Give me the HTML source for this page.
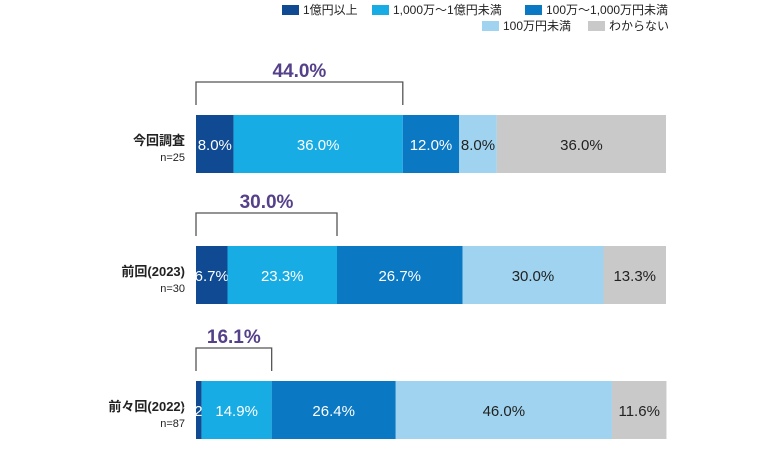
<!DOCTYPE html>
<html><head><meta charset="utf-8"><style>
body{margin:0;background:#fff;width:780px;height:448px;overflow:hidden;font-family:"Liberation Sans","Noto Sans CJK JP",sans-serif}
svg text{font-family:"Liberation Sans","Noto Sans CJK JP",sans-serif}
</style></head><body>
<svg id="c" width="780" height="448"></svg>
<script>
const categories=["今回調査","前回(2023)","前々回(2022)"];
const sampleLabels=["n=25","n=30","n=87"];
const seriesNames=["1億円以上","1,000万〜1億円未満","100万〜1,000万円未満","100万円未満","わからない"];
const s1=[8.0,6.7,1.2];
const s2=[36.0,23.3,14.9];
const s3=[12.0,26.7,26.4];
const s4=[8.0,30.0,46.0];
const s5=[36.0,13.3,11.6];
const bracketTotals=["44.0%","30.0%","16.1%"];
const colors=["#0f4a93","#17ade4","#0a78c2","#9fd3ef","#c9c9c9"];
const textColors=["#fff","#fff","#fff","#222","#222"];
const series=[s1,s2,s3,s4,s5];
const NS="http://www.w3.org/2000/svg";
const svg=document.getElementById('c');
const x0=196,W=470;
const xs=v=>x0+v/100*W;
const barTops=[115,246,381],barH=58;
function mk(t,a,txt){const e=document.createElementNS(NS,t);for(const k in a)e.setAttribute(k,a[k]);if(txt!=null)e.textContent=txt;svg.appendChild(e);return e;}
// legend
const leg=[[282,10],[372,10],[525,10],[482,26],[588,26]];
seriesNames.forEach((n,i)=>{
 const r=mk('rect',{x:leg[i][0],y:leg[i][1]-5,width:17,height:10,fill:colors[i]});
 
 
 const t=mk('text',{x:leg[i][0]+21,y:leg[i][1]+4,'font-size':12,fill:'#222'},n);
 
 
});
categories.forEach((c,ci)=>{
 const y=barTops[ci];
 const l=mk('text',{x:185,y:y+30,'font-size':13,'text-anchor':'end',fill:'#222','font-weight':'bold'},c);
 
 
 const n=mk('text',{x:185,y:y+46,'font-size':11,'text-anchor':'end',fill:'#222'},sampleLabels[ci]);
 
 
 let acc=0;
 series.forEach((s,si)=>{
  const v=s[ci];
  const r=mk('rect',{x:xs(acc),y:y,width:xs(acc+v)-xs(acc),height:barH,fill:colors[si]});
  
  
  const t=mk('text',{x:(xs(acc)+xs(acc+v))/2,y:y+35,'font-size':15,'text-anchor':'middle',fill:textColors[si]},v.toFixed(1)+'%');
  
  
  acc+=v;
 });
 const bx=xs(s1[ci]+s2[ci]);
 const p=mk('path',{d:`M${x0} ${y-10}V${y-33}H${bx}V${y-10}`,fill:'none',stroke:'#555',"stroke-width":1.3});
 
 
 const bt=mk('text',{x:(x0+bx)/2,y:y-38,'font-size':19,'font-weight':'bold','text-anchor':'middle',fill:'#55408a'},bracketTotals[ci]);
 
 
});
</script>
</body></html>
